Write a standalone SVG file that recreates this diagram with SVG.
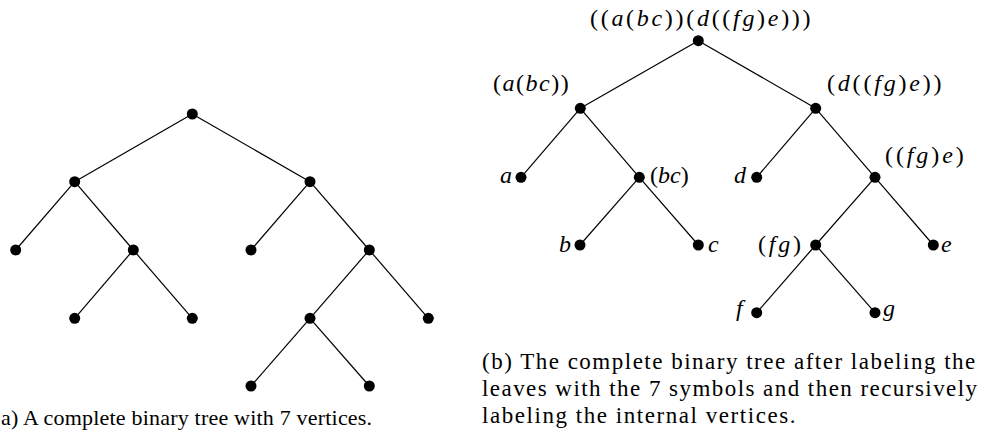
<svg xmlns="http://www.w3.org/2000/svg" width="982" height="435" viewBox="0 0 982 435">
<rect width="982" height="435" fill="#fff"/>
<g id="connectors" stroke="#000" stroke-width="1.2" fill="none">
<line x1="192.3" y1="114" x2="74.7" y2="181.7"/>
<line x1="192.3" y1="114" x2="310" y2="181.7"/>
<line x1="74.7" y1="181.7" x2="15.7" y2="250"/>
<line x1="74.7" y1="181.7" x2="133.3" y2="250"/>
<line x1="133.3" y1="250" x2="74.7" y2="318.3"/>
<line x1="133.3" y1="250" x2="192.3" y2="318.3"/>
<line x1="310" y1="181.7" x2="251" y2="250"/>
<line x1="310" y1="181.7" x2="369.3" y2="250"/>
<line x1="369.3" y1="250" x2="310" y2="318.3"/>
<line x1="369.3" y1="250" x2="428.3" y2="318.3"/>
<line x1="310" y1="318.3" x2="251" y2="386"/>
<line x1="310" y1="318.3" x2="369.3" y2="386"/>
<line x1="698.3" y1="40.7" x2="580.3" y2="108.3"/>
<line x1="698.3" y1="40.7" x2="815.7" y2="108.3"/>
<line x1="580.3" y1="108.3" x2="521" y2="177.3"/>
<line x1="580.3" y1="108.3" x2="639.3" y2="177.3"/>
<line x1="639.3" y1="177.3" x2="580" y2="245"/>
<line x1="639.3" y1="177.3" x2="698.3" y2="245"/>
<line x1="815.7" y1="108.3" x2="756.7" y2="177.3"/>
<line x1="815.7" y1="108.3" x2="875" y2="177.3"/>
<line x1="875" y1="177.3" x2="815.7" y2="245"/>
<line x1="875" y1="177.3" x2="933.3" y2="245"/>
<line x1="815.7" y1="245" x2="756.7" y2="312.7"/>
<line x1="815.7" y1="245" x2="875" y2="312.7"/>
</g>
<g id="tree-a" fill="#000">
<circle id="a-root" cx="192.3" cy="114" r="5.5"/>
<circle id="a-l" cx="74.7" cy="181.7" r="5.5"/>
<circle id="a-r" cx="310" cy="181.7" r="5.5"/>
<circle id="a-ll" cx="15.7" cy="250" r="5.5"/>
<circle id="a-lr" cx="133.3" cy="250" r="5.5"/>
<circle id="a-rl" cx="251" cy="250" r="5.5"/>
<circle id="a-rr" cx="369.3" cy="250" r="5.5"/>
<circle id="a-lrl" cx="74.7" cy="318.3" r="5.5"/>
<circle id="a-lrr" cx="192.3" cy="318.3" r="5.5"/>
<circle id="a-rrl" cx="310" cy="318.3" r="5.5"/>
<circle id="a-rrr" cx="428.3" cy="318.3" r="5.5"/>
<circle id="a-rrll" cx="251" cy="386" r="5.5"/>
<circle id="a-rrlr" cx="369.3" cy="386" r="5.5"/>
</g>
<g id="tree-b" fill="#000">
<g id="b-root"><circle cx="698.3" cy="40.7" r="5.5"/>
<text x="590" y="26" style="font-family:'Liberation Serif',serif;font-size:24px;letter-spacing:2.7px">((<tspan style="font-style:italic">a</tspan>(<tspan style="font-style:italic">bc</tspan>))(<tspan style="font-style:italic">d</tspan>((<tspan style="font-style:italic">fg</tspan>)<tspan style="font-style:italic">e</tspan>)))</text></g>
<g id="b-abc"><circle cx="580.3" cy="108.3" r="5.5"/>
<text x="493" y="91" style="font-family:'Liberation Serif',serif;font-size:24px;letter-spacing:1.5px">(<tspan style="font-style:italic">a</tspan>(<tspan style="font-style:italic">bc</tspan>))</text></g>
<g id="b-dfge"><circle cx="815.7" cy="108.3" r="5.5"/>
<text x="827" y="91" style="font-family:'Liberation Serif',serif;font-size:24px;letter-spacing:2.8px">(<tspan style="font-style:italic">d</tspan>((<tspan style="font-style:italic">fg</tspan>)<tspan style="font-style:italic">e</tspan>))</text></g>
<g id="b-a"><circle cx="521" cy="177.3" r="5.5"/>
<text x="500" y="183" style="font-family:'Liberation Serif',serif;font-size:24px;font-style:italic">a</text></g>
<g id="b-bc"><circle cx="639.3" cy="177.3" r="5.5"/>
<text x="650" y="183" style="font-family:'Liberation Serif',serif;font-size:24px">(<tspan style="font-style:italic">bc</tspan>)</text></g>
<g id="b-d"><circle cx="756.7" cy="177.3" r="5.5"/>
<text x="734" y="183" style="font-family:'Liberation Serif',serif;font-size:24px;font-style:italic">d</text></g>
<g id="b-fge"><circle cx="875" cy="177.3" r="5.5"/>
<text x="885" y="163" style="font-family:'Liberation Serif',serif;font-size:24px;letter-spacing:2.9px">((<tspan style="font-style:italic">fg</tspan>)<tspan style="font-style:italic">e</tspan>)</text></g>
<g id="b-b"><circle cx="580" cy="245" r="5.5"/>
<text x="559" y="252" style="font-family:'Liberation Serif',serif;font-size:24px;font-style:italic">b</text></g>
<g id="b-c"><circle cx="698.3" cy="245" r="5.5"/>
<text x="708" y="252" style="font-family:'Liberation Serif',serif;font-size:24px;font-style:italic">c</text></g>
<g id="b-fg"><circle cx="815.7" cy="245" r="5.5"/>
<text x="758" y="252" style="font-family:'Liberation Serif',serif;font-size:24px;letter-spacing:2.8px">(<tspan style="font-style:italic">fg</tspan>)</text></g>
<g id="b-e"><circle cx="933.3" cy="245" r="5.5"/>
<text x="941" y="252" style="font-family:'Liberation Serif',serif;font-size:24px;font-style:italic">e</text></g>
<g id="b-f"><circle cx="756.7" cy="312.7" r="5.5"/>
<text x="736" y="316" style="font-family:'Liberation Serif',serif;font-size:24px;font-style:italic">f</text></g>
<g id="b-g"><circle cx="875" cy="312.7" r="5.5"/>
<text x="883" y="316" style="font-family:'Liberation Serif',serif;font-size:24px;font-style:italic">g</text></g>
</g>
<g id="captions" fill="#000">
<text x="1" y="425" style="font-family:'Liberation Serif',serif;font-size:22px;letter-spacing:0.2px">a) A complete binary tree with 7 vertices.</text>
<text x="482" y="369" style="font-family:'Liberation Serif',serif;font-size:23px;letter-spacing:1.5px">(b) The complete binary tree after labeling the</text>
<text x="482" y="396" style="font-family:'Liberation Serif',serif;font-size:23px;letter-spacing:1.45px">leaves with the 7 symbols and then recursively</text>
<text x="482" y="423" style="font-family:'Liberation Serif',serif;font-size:23px;letter-spacing:1.55px">labeling the internal vertices.</text>
</g>
</svg>
